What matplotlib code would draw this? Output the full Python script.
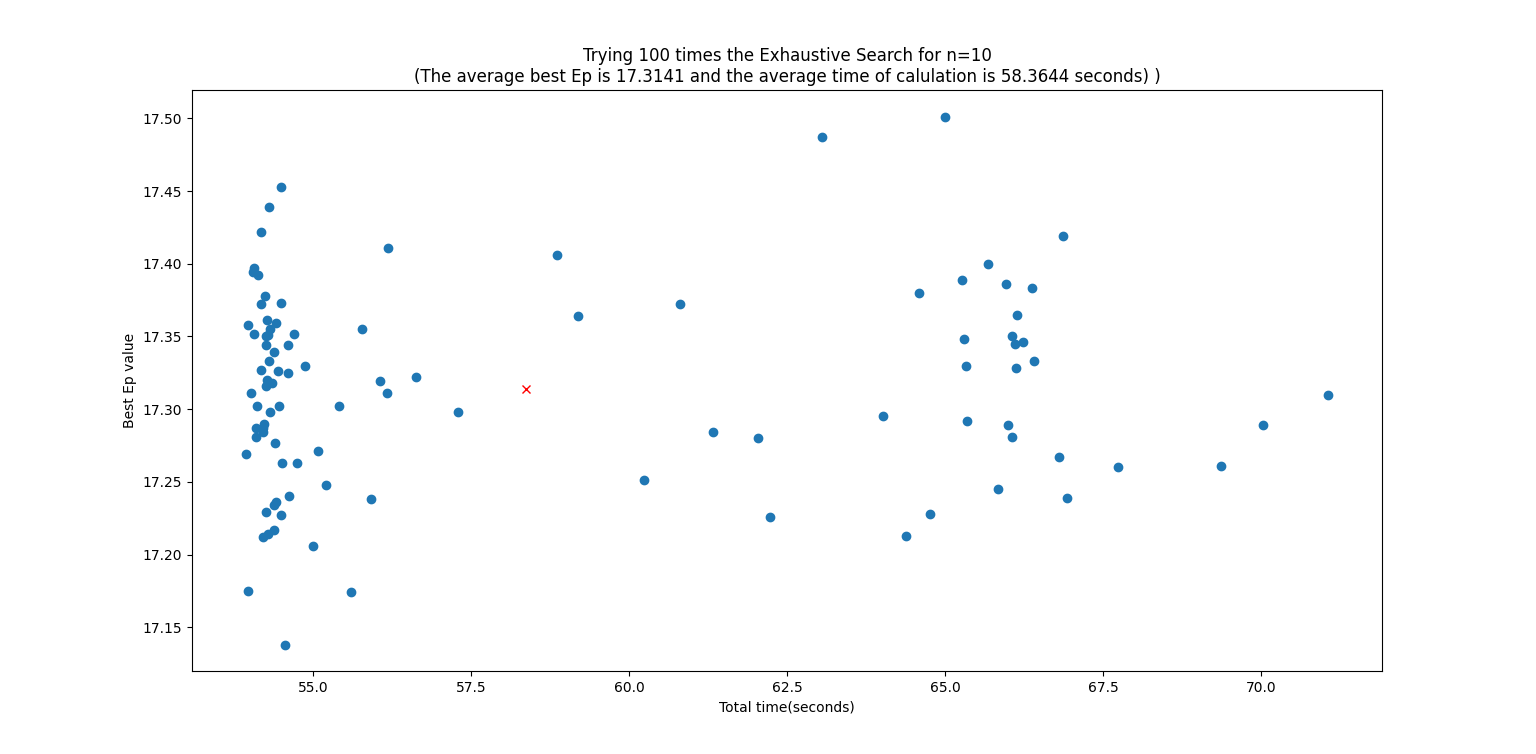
import matplotlib
matplotlib.use('Agg')
import matplotlib.pyplot as plt

# total time (s) and best Ep for each of the 100 runs
times = [54.49, 54.30, 54.18, 54.07, 54.05, 54.13, 54.24, 54.18, 54.49, 54.27,
         53.97, 54.07, 54.41, 54.32, 54.29, 54.26, 54.70, 54.60, 54.26, 54.38,
         54.30, 54.87, 54.18, 54.45, 54.60, 54.27, 54.35, 54.26, 54.02, 54.11,
         54.46, 54.32, 54.22, 54.21, 54.10, 54.10, 54.21, 54.40, 53.94, 54.51,
         54.75, 55.08, 55.21, 54.41, 54.38, 54.62, 54.26, 54.49, 54.38, 54.29,
         54.21, 55.00, 53.97, 55.60, 54.56, 55.92, 55.41, 56.17, 56.06, 56.63,
         55.78, 56.19, 57.29,
         58.86, 59.19, 60.81, 60.24, 61.33, 62.04, 62.23, 63.05, 65.00, 64.02,
         64.38, 64.76, 64.59, 65.68, 65.27, 65.96, 66.38, 66.14, 65.30, 66.06,
         66.23, 66.11, 66.41, 65.33, 66.12, 65.35, 66.00, 66.06, 65.84, 66.80,
         66.93, 66.87, 67.74, 69.37, 70.03, 71.06]
best_ep = [17.453, 17.439, 17.422, 17.397, 17.394, 17.392, 17.378, 17.372, 17.373, 17.361,
           17.358, 17.352, 17.359, 17.355, 17.351, 17.350, 17.352, 17.344, 17.344, 17.339,
           17.333, 17.330, 17.327, 17.326, 17.325, 17.320, 17.318, 17.316, 17.311, 17.302,
           17.302, 17.298, 17.290, 17.287, 17.287, 17.281, 17.284, 17.277, 17.269, 17.263,
           17.263, 17.271, 17.248, 17.236, 17.234, 17.240, 17.229, 17.227, 17.217, 17.214,
           17.212, 17.206, 17.175, 17.174, 17.138, 17.238, 17.302, 17.311, 17.319, 17.322,
           17.355, 17.411, 17.298,
           17.406, 17.364, 17.372, 17.251, 17.284, 17.280, 17.226, 17.487, 17.501, 17.295,
           17.213, 17.228, 17.380, 17.400, 17.389, 17.386, 17.383, 17.365, 17.348, 17.350,
           17.346, 17.345, 17.333, 17.330, 17.328, 17.292, 17.289, 17.281, 17.245, 17.267,
           17.239, 17.419, 17.260, 17.261, 17.289, 17.310]

avg_time = 58.3644
avg_ep = 17.3141

fig = plt.figure(figsize=(15.36, 7.54), dpi=100)
plt.scatter(times, best_ep)
plt.plot(avg_time, avg_ep, 'rx')
plt.title('Trying 100 times the Exhaustive Search for n=10\n'
          '(The average best Ep is %.4f and the average time of calulation is %.4f seconds) )'
          % (avg_ep, avg_time))
plt.xlabel('Total time(seconds)')
plt.ylabel('Best Ep value')
plt.savefig('out.png')
